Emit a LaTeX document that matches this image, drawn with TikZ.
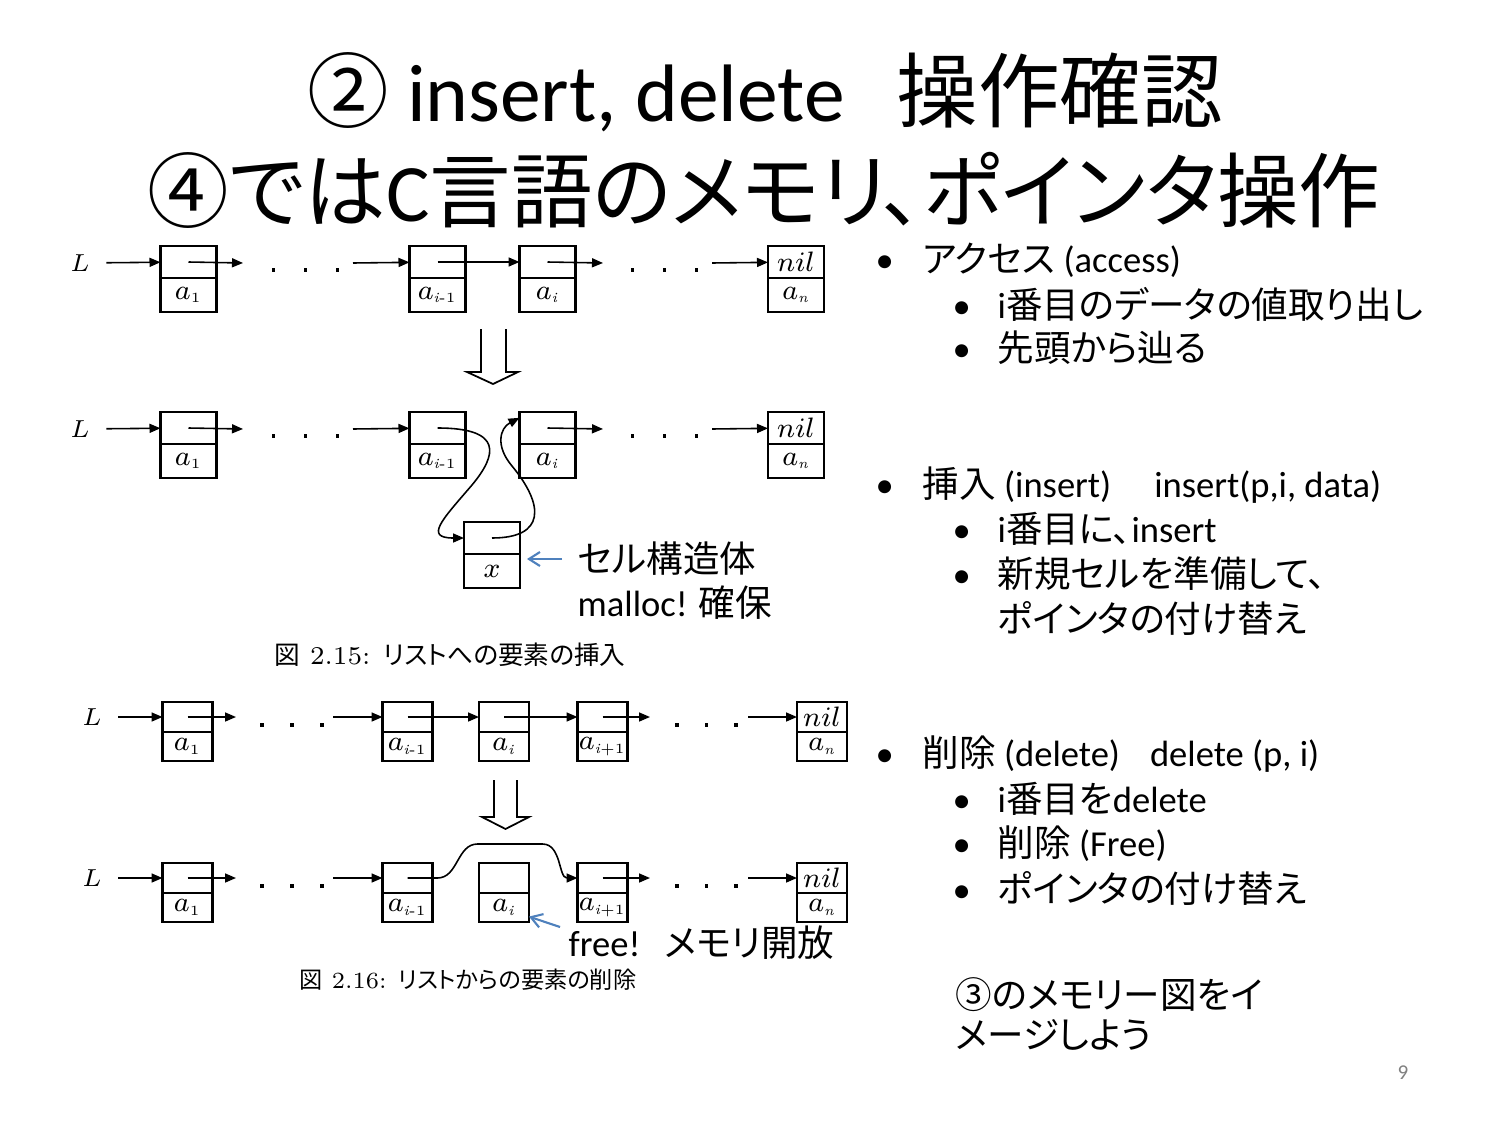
\documentclass[tikz,border=0pt]{standalone}
\usepackage{fontspec}
\newfontfamily\jp[RawFeature=+palt]{Noto Sans CJK JP}
\newfontfamily\calib{Carlito}
\usetikzlibrary{positioning,arrows.meta}
\definecolor{notecol}{RGB}{79,129,189}
\newcommand\dotrow[1]{\rule{1.1pt}{1.1pt}\hspace{#1}\rule{1.1pt}{1.1pt}\hspace{#1}\rule{1.1pt}{1.1pt}}
\newcommand\itembul[1]{\makebox[#1][l]{•}}
\newcommand\sub[1]{_{\mbox{\fontsize{4}{4}\selectfont #1}}}

\begin{document}
\begin{tikzpicture}[x=0.1mm, y=-0.1mm]
	\tikzset{cell/.style={draw, line width=0.75pt, minimum width=5.6mm, inner sep=0pt, outer sep=0pt, font=\fontsize{8.3}{9}\selectfont}}
	\tikzset{ptrpart/.style={cell, minimum height=3.2mm}}
	\tikzset{valpart/.style={cell, minimum height=3.4mm}}
	\tikzset{link/.style={-{Triangle[length=1.1mm,width=0.9mm]}, line width=0.45pt}}
	\tikzset{note/.style={-{Straight Barb[length=1.1mm,width=1.4mm]}, draw=notecol, line width=0.6pt}}
	\tikzset{lbl/.style={inner sep=0pt, font=\fontsize{7.5}{8}\selectfont}}
	\tikzset{dots/.style={inner sep=0pt}}
	\tikzset{figcap/.style={inner sep=0pt, font=\fontsize{7.3}{8}\selectfont}}
	\tikzset{title/.style={inner sep=0pt, font=\calib\fontsize{23.2}{24}\selectfont}}
	\tikzset{side/.style={anchor=west, inner sep=0pt, font=\calib\fontsize{10.4}{12}\selectfont}}
	\tikzset{memo/.style={anchor=west, inner sep=0pt, font=\calib\fontsize{10.4}{12}\selectfont}}
	\useasboundingbox (0,0) rectangle (1500,1125);
	\fill[white] (0,0) rectangle (1500,1125);

	\node[title] (head1) at (765,92) {{\jp ②} insert, delete\hspace{5.2mm}{\jp 操作確認}};
	\node[title] (head2) at (764,190) {{\jp ④では}C{\jp 言語のメモリ、ポインタ操作}};

	% access
	\node[lbl] (La) at (80,263) {$L$};
	\node[ptrpart] (a1p) at (188.5,262) {};
	\node[valpart, below=0pt of a1p] (a1v) {$a\sub{1}$};
	\node[ptrpart] (ai1p) at (437.5,262) {};
	\node[valpart, below=0pt of ai1p] (ai1v) {$a\sub{\textit{i}-1}$};
	\node[ptrpart] (aip) at (547.5,262) {};
	\node[valpart, below=0pt of aip] (aiv) {$a\sub{\textit{i}}$};
	\node[ptrpart] (anp) at (796,262) {$nil$};
	\node[valpart, below=0pt of anp] (anv) {$a\sub{\textit{n}}$};
	\node[dots] (ad1) at (305.5,270) {\dotrow{8pt}};
	\node[dots] (ad2) at (664.5,270) {\dotrow{8pt}};
	\coordinate (ae1) at (243,263);
	\coordinate (as1) at (353,263);
	\coordinate (ae2) at (603,263);
	\coordinate (as2) at (712,263);
	\draw[link, shorten <=1.6mm] (La) -- (a1p);
	\draw[link] (a1p.center) -- (ae1);
	\draw[link] (as1) -- (ai1p);
	\draw[link] (ai1p.center) -- (aip);
	\draw[link] (aip.center) -- (ae2);
	\draw[link] (as2) -- (anp);

	\draw[line width=0.5pt] (481,329) -- (481,372) -- (467,372) -- (493,384) -- (518,372) -- (506,372) -- (506,329);

	% insert
	\begin{scope}[shift={(0,166)}]
		\node[lbl] (Lb) at (80,263) {$L$};
		\node[ptrpart] (b1p) at (188.5,262) {};
		\node[valpart, below=0pt of b1p] (b1v) {$a\sub{1}$};
		\node[ptrpart] (bi1p) at (437.5,262) {};
		\node[valpart, below=0pt of bi1p] (bi1v) {$a\sub{\textit{i}-1}$};
		\node[ptrpart] (bip) at (547.5,262) {};
		\node[valpart, below=0pt of bip] (biv) {$a\sub{\textit{i}}$};
		\node[ptrpart] (bnp) at (796,262) {$nil$};
		\node[valpart, below=0pt of bnp] (bnv) {$a\sub{\textit{n}}$};
		\node[ptrpart] (xp) at (492,372) {};
		\node[valpart, below=0pt of xp] (xv) {$x$};
		\node[dots] (bd1) at (305.5,270) {\dotrow{8pt}};
		\node[dots] (bd2) at (664.5,270) {\dotrow{8pt}};
		\coordinate (be1) at (243,263);
		\coordinate (bs1) at (353,263);
		\coordinate (be2) at (603,263);
		\coordinate (bs2) at (712,263);
		\draw[link, shorten <=1.6mm] (Lb) -- (b1p);
		\draw[link] (b1p.center) -- (be1);
		\draw[link] (bs1) -- (bi1p);
		\draw[link] (bi1p.center) .. controls +(66,0) and +(25,-30) .. (472,319)
			.. controls +(-30,35) and +(-40,0) .. (xp.west);
		\draw[link] (xp.center) .. controls (545,372) and (545,340) .. (512,300)
			.. controls (495,280) and (500,262) .. (bip.160);
		\draw[link] (bip.center) -- (be2);
		\draw[link] (bs2) -- (bnp);

		\node[memo] (cell1) at (577,393) {{\jp セル構造体}};
		\node[memo] (cell2) at (577,437) {malloc! {\jp 確保}};
		\draw[note] ([xshift=-1.5mm]cell1.west) -- ([xshift=0.7mm]cell1.west -| xp.east);
	\end{scope}

	\node[figcap] (cap1) at (450,655) {{\jp 図} 2.15: {\jp リストへの要素の挿入}};

	% delete
	\begin{scope}[cell/.append style={minimum width=5mm, font=\fontsize{7.8}{8}\selectfont},
		ptrpart/.append style={minimum height=3mm}, valpart/.append style={minimum height=2.9mm}]
		\node[lbl] (Lc) at (92,717) {$L$};
		\node[ptrpart] (c1p) at (187.5,717) {};
		\node[valpart, below=0pt of c1p] (c1v) {$a\sub{1}$};
		\node[ptrpart] (ci1p) at (407.5,717) {};
		\node[valpart, below=0pt of ci1p] (ci1v) {$a\sub{\textit{i}-1}$};
		\node[ptrpart] (cip) at (504,717) {};
		\node[valpart, below=0pt of cip] (civ) {$a\sub{\textit{i}}$};
		\node[ptrpart] (ci2p) at (602.5,717) {};
		\node[valpart, below=0pt of ci2p] (ci2v) {$a\sub{\textit{i}+1}$};
		\node[ptrpart] (cnp) at (822,717) {$nil$};
		\node[valpart, below=0pt of cnp] (cnv) {$a\sub{\textit{n}}$};
		\node[dots] (cd1) at (292,725) {\dotrow{7.4pt}};
		\node[dots] (cd2) at (706.5,725) {\dotrow{7.4pt}};
		\coordinate (ce1) at (236,717);
		\coordinate (cs1) at (333,717);
		\coordinate (ce2) at (650,717);
		\coordinate (cs2) at (748,717);
		\draw[link, shorten <=1.6mm] (Lc) -- (c1p);
		\draw[link] (c1p.center) -- (ce1);
		\draw[link] (cs1) -- (ci1p);
		\draw[link] (ci1p.center) -- (cip);
		\draw[link] (cip.center) -- (ci2p);
		\draw[link] (ci2p.center) -- (ce2);
		\draw[link] (cs2) -- (cnp);

		\draw[line width=0.5pt] (494,780) -- (494,817) -- (482,817) -- (505.5,829) -- (529,817) -- (517,817) -- (517,780);

		\begin{scope}[shift={(0,161)}]
			\node[lbl] (Ld) at (92,717) {$L$};
			\node[ptrpart] (d1p) at (187.5,717) {};
			\node[valpart, below=0pt of d1p] (d1v) {$a\sub{1}$};
			\node[ptrpart] (di1p) at (407.5,717) {};
			\node[valpart, below=0pt of di1p] (di1v) {$a\sub{\textit{i}-1}$};
			\node[ptrpart] (dip) at (504,717) {};
			\node[valpart, below=0pt of dip] (div) {$a\sub{\textit{i}}$};
			\node[ptrpart] (di2p) at (602.5,717) {};
			\node[valpart, below=0pt of di2p] (di2v) {$a\sub{\textit{i}+1}$};
			\node[ptrpart] (dnp) at (822,717) {$nil$};
			\node[valpart, below=0pt of dnp] (dnv) {$a\sub{\textit{n}}$};
			\node[dots] (dd1) at (292,725) {\dotrow{7.4pt}};
			\node[dots] (dd2) at (706.5,725) {\dotrow{7.4pt}};
			\coordinate (de1) at (236,717);
			\coordinate (ds1) at (333,717);
			\coordinate (de2) at (650,717);
			\coordinate (ds2) at (748,717);
			\draw[link, shorten <=1.6mm] (Ld) -- (d1p);
			\draw[link] (d1p.center) -- (de1);
			\draw[link] (ds1) -- (di1p);
			\draw[link] (di1p.center) -- ++(30,0) to[out=0,in=180] ++(40,-34) -- ++(65,0) to[out=0,in=180] (di2p.west);
			\draw[link] (di2p.center) -- (de2);
			\draw[link] (ds2) -- (dnp);

			\node[memo] (freed) at (568,782) {free!\hspace{2.4mm}{\jp メモリ開放}};
			\coordinate (freetail) at (560,766);
			\draw[note] (freetail) -- (div.-20);
		\end{scope}
	\end{scope}

	\node[figcap, font=\fontsize{6.6}{8}\selectfont] (cap2) at (468,980) {{\jp 図} 2.16: {\jp リストからの要素の削除}};

	% bullets
	\node[side] (acc) at (875,260) {\itembul{4.7mm}{\jp アクセス} (access)};
	\node[side] (acc1) at (952,304) {\itembul{4.5mm}i{\jp 番目のデータの値取り出し}};
	\node[side] (acc2) at (952,348) {\itembul{4.5mm}{\jp 先頭から辿る}};
	\node[side] (ins) at (875,485) {\itembul{4.7mm}{\jp 挿入} (insert)\hspace{4.3mm}insert(p,i, data)};
	\node[side] (ins1) at (952,529) {\itembul{4.5mm}i{\jp 番目に、}insert};
	\node[side] (ins2) at (952,574) {\itembul{4.5mm}{\jp 新規セルを準備して、}};
	\node[side] (ins3) at (997,618) {{\jp ポインタの付け替え}};
	\node[side] (del) at (875,754) {\itembul{4.7mm}{\jp 削除} (delete)\hspace{3mm}delete (p, i)};
	\node[side] (del1) at (952,799) {\itembul{4.5mm}i{\jp 番目を}delete};
	\node[side] (del2) at (952,844) {\itembul{4.5mm}{\jp 削除} (Free)};
	\node[side] (del3) at (952,888) {\itembul{4.5mm}{\jp ポインタの付け替え}};
	\node[side] (img1) at (955,995) {{\jp ③のメモリー図をイ}};
	\node[side] (img2) at (955,1035) {{\jp メージしよう}};
	\node[side, text=gray, font=\calib\fontsize{6}{7}\selectfont] (pgno) at (1397,1073) {9};
\end{tikzpicture}
\end{document}
